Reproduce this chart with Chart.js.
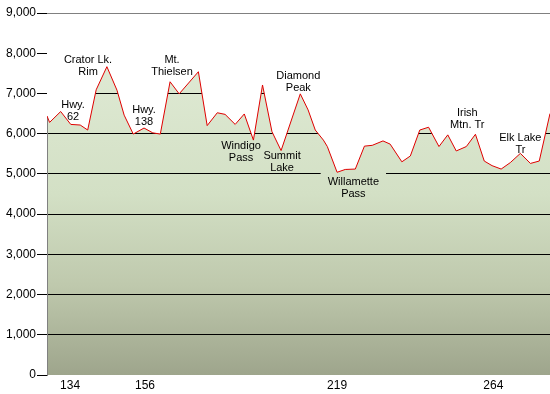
<!DOCTYPE html>
<html>
<head>
<meta charset="utf-8">
<script src="https://cdn.jsdelivr.net/npm/chart.js@4.4.0/dist/chart.umd.min.js"></script>
<style>
  html, body { margin: 0; padding: 0; background: #fff; }
</style>
</head>
<body>
<canvas id="profile" width="550" height="394"></canvas>
<script>
// ===== data =====
// distance along the profile (chart units) and elevation (ft)
const miles = [
  126.9, 127.7, 131.1, 134.2, 137.1, 139.4, 142.0, 145.3, 148.4, 150.6,
  153.4, 156.7, 159.4, 161.7, 164.7, 167.5, 173.4, 176.1, 179.2, 181.6,
  184.7, 187.5, 190.3, 193.1, 196.0, 198.8, 204.7, 207.1, 209.3, 211.8,
  213.0, 216.0, 218.5, 221.6, 224.4, 226.8, 230.1, 232.3, 235.9, 238.5,
  241.4, 244.1, 247.3, 250.0, 252.6, 255.7, 258.5, 261.2, 263.6, 266.4,
  269.2, 272.3, 275.4, 278.1, 281.4
];
const elevation = [
  6440, 6280, 6550, 6230, 6215, 6090, 7090, 7665, 7080, 6460,
  5990, 6140, 6020, 5990, 7290, 6990, 7540, 6200, 6520, 6480,
  6230, 6490, 5840, 7210, 6050, 5580, 6990, 6590, 6090, 5840,
  5680, 5040, 5110, 5120, 5690, 5710, 5820, 5740, 5300, 5445,
  6090, 6160, 5680, 5970, 5570, 5680, 5985, 5320, 5205, 5120,
  5280, 5510, 5260, 5320, 6500
];

// x axis labels sit where the picture puts them
const xTickAt = [134, 157, 216, 264];
const xTickText = ['134', '156', '219', '264'];

// place names, anchored at (mile, elevation) of their first line
const places = [
  { lines: ['Hwy.', '62'], mile: 134.9, elev: 6713 },
  { lines: ['Crator Lk.', 'Rim'], mile: 139.5, elev: 7832 },
  { lines: ['Hwy.', '138'], mile: 156.7, elev: 6589 },
  { lines: ['Mt.', 'Thielsen'], mile: 165.3, elev: 7832 },
  { lines: ['Windigo', 'Pass'], mile: 186.5, elev: 5694 },
  { lines: ['Summit', 'Lake'], mile: 199.1, elev: 5445 },
  { lines: ['Diamond', 'Peak'], mile: 204.1, elev: 7434 },
  { lines: ['Willamette', 'Pass'], mile: 221.0, elev: 4799, clear: true },
  { lines: ['Irish', 'Mtn. Tr'], mile: 256.0, elev: 6514 },
  { lines: ['Elk Lake', 'Tr'], mile: 272.3, elev: 5893 }
];

const FAMILY = '"Liberation Sans", Arial, sans-serif';
const LABEL_FONT = '11px ' + FAMILY;

function groundGradient(chart) {
  const a = chart.chartArea;
  const g = chart.ctx.createLinearGradient(0, a.top, 0, a.bottom);
  g.addColorStop(0, '#e3edd9');
  g.addColorStop(0.5, '#d3e0c5');
  g.addColorStop(0.75, '#bfc9ad');
  g.addColorStop(1, '#9ea58c');
  return g;
}

// ground fill behind the grid, labels on top
const profilePlugin = {
  id: 'profile',
  beforeDraw(chart) {
    const a = chart.chartArea;
    const ctx = chart.ctx;
    ctx.save();
    ctx.fillStyle = groundGradient(chart);
    ctx.fillRect(a.left, a.top, a.right - a.left, a.bottom - a.top);
    ctx.restore();
  },
  beforeDatasetsDraw(chart) {
    // some labels blank out the grid line behind them
    const ctx = chart.ctx;
    const x = chart.scales.x, y = chart.scales.y;
    ctx.save();
    ctx.font = LABEL_FONT;
    ctx.fillStyle = groundGradient(chart);
    places.filter(p => p.clear).forEach(p => {
      const cx = x.getPixelForValue(p.mile);
      const cy = y.getPixelForValue(p.elev);
      const w = Math.max(...p.lines.map(t => ctx.measureText(t).width)) + 14;
      ctx.fillRect(cx - w / 2, cy - 10, w, p.lines.length * 12 + 8);
    });
    ctx.restore();
  },
  afterDatasetsDraw(chart) {
    const a = chart.chartArea;
    const ctx = chart.ctx;
    const x = chart.scales.x, y = chart.scales.y;
    ctx.save();
    // top frame line
    ctx.strokeStyle = '#808080';
    ctx.lineWidth = 1;
    ctx.beginPath();
    ctx.moveTo(a.left, Math.round(a.top) + 0.5);
    ctx.lineTo(a.right, Math.round(a.top) + 0.5);
    ctx.stroke();
    // place names
    ctx.font = LABEL_FONT;
    ctx.fillStyle = '#000';
    ctx.textAlign = 'center';
    ctx.textBaseline = 'middle';
    places.forEach(p => {
      const cx = x.getPixelForValue(p.mile);
      const cy = y.getPixelForValue(p.elev);
      p.lines.forEach((t, i) => ctx.fillText(t, cx, cy + i * 12));
    });
    ctx.restore();
  }
};

const chart = new Chart(document.getElementById('profile'), {
  type: 'line',
  data: {
    datasets: [{
      data: miles.map((m, i) => ({ x: m, y: elevation[i] })),
      borderColor: '#e00000',
      borderWidth: 1,
      backgroundColor: '#ffffff',
      fill: 'end',
      tension: 0,
      pointRadius: 0
    }]
  },
  options: {
    responsive: false,
    animation: false,
    layout: { padding: { top: 13, right: 0, left: 0, bottom: 0 } },
    plugins: {
      legend: { display: false },
      tooltip: { enabled: false }
    },
    scales: {
      x: {
        type: 'linear',
        min: 126.9,
        max: 281.4,
        afterBuildTicks: scale => { scale.ticks = xTickAt.map(v => ({ value: v })); },
        afterFit: scale => { scale.height = 19; },
        grid: { display: false, drawTicks: false },
        border: { display: false },
        ticks: {
          color: '#000',
          font: { family: FAMILY, size: 12 },
          padding: 3,
          maxRotation: 0,
          autoSkip: false,
          callback: (v, i) => xTickText[i]
        }
      },
      y: {
        min: 0,
        max: 9000,
        afterFit: scale => { scale.width = 47; },
        grid: {
          color: c => (c.tick && c.tick.value === 0) ? 'rgba(0,0,0,0)' : '#000',
          tickColor: '#000',
          tickLength: 10,
          lineWidth: 1
        },
        border: { display: true, color: '#808080' },
        ticks: {
          stepSize: 1000,
          color: '#000',
          padding: 1,
          font: { family: FAMILY, size: 12 },
          callback: v => v.toLocaleString('en-US')
        }
      }
    }
  },
  plugins: [profilePlugin]
});
</script>
</body>
</html>
